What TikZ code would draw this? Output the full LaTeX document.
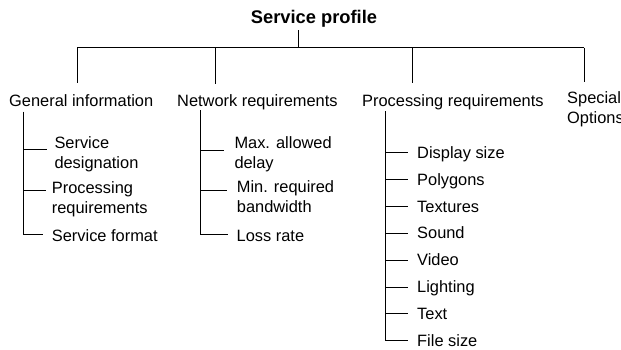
\documentclass[tikz,border=0pt]{standalone}
\usepackage{fontspec}
\setmainfont{Liberation Sans}
\newcommand{\twolines}[2]{\vtop{\baselineskip=20pt\hbox{#1}\hbox{#2}}}
\begin{document}
\begin{tikzpicture}[x=1pt,y=-1pt,
  lbl/.style={anchor=base west,inner sep=0pt,font=\fontsize{16.4}{20}\selectfont},
  ttl/.style={anchor=base,inner sep=0pt,font=\bfseries\fontsize{18.3}{22}\selectfont},
  wire/.style={draw=black,line width=1pt}]
\useasboundingbox (0,0) rectangle (621,349);

% title and top-level bar
\node[ttl] (title) at (314,23) {Service profile};
\coordinate (r0) at (298,30);
\coordinate (r1) at (298,47.5);
\coordinate (barL) at (77,47.5);
\coordinate (barR) at (584,47.5);
\draw[wire] (r0) -- (r1);
\draw[wire] (barL) -- (barR);

% top-level categories
\node[lbl] (gi) at (9,106) {General information};
\node[lbl] (nr) at (177,106) {Network requirements};
\node[lbl] (pr) at (362,106) {Processing requirements};
\node[lbl] (so) at (567,103) {\twolines{Special}{Options}};

\coordinate (giT) at (77,83);
\coordinate (nrB) at (215,47.5);
\coordinate (nrT) at (215,84);
\coordinate (prB) at (412.7,47.5);
\coordinate (prT) at (412.7,83);
\coordinate (soT) at (584,82);
\draw[wire] (barL) -- (giT);
\draw[wire] (nrB) -- (nrT);
\draw[wire] (prB) -- (prT);
\draw[wire] (barR) -- (soT);

% general information
\node[lbl] (g1) at (54.3,148) {\twolines{Service}{designation}};
\node[lbl] (g2) at (51.7,193) {\twolines{Processing}{requirements}};
\node[lbl] (g3) at (51.7,241.5) {Service format};
\coordinate (gtop) at (23,111.5);
\coordinate (g1a) at (23,149);  \coordinate (g1b) at (46.7,149);
\coordinate (g2a) at (23,190);  \coordinate (g2b) at (45.5,190);
\coordinate (g3b) at (43,234);
\draw[wire] (gtop) |- (g3b);
\draw[wire] (g1a) -- (g1b);
\draw[wire] (g2a) -- (g2b);

% network requirements
\node[lbl] (n1) at (234.3,148) {\twolines{Max. allowed}{delay}};
\node[lbl] (n2) at (236.7,192) {\twolines{Min. required}{bandwidth}};
\node[lbl] (n3) at (236.5,241.5) {Loss rate};
\coordinate (ntop) at (200,110);
\coordinate (n1a) at (200,150.7); \coordinate (n1b) at (224.3,150.7);
\coordinate (n2a) at (200,190);   \coordinate (n2b) at (226.5,190);
\coordinate (n3b) at (227.7,234.3);
\draw[wire] (ntop) |- (n3b);
\draw[wire] (n1a) -- (n1b);
\draw[wire] (n2a) -- (n2b);

% processing requirements
\coordinate (ptop) at (385,111);
\foreach \t [count=\i from 0] in {Display size,Polygons,Textures,Sound,Video,Lighting,Text,File size}{
  \node[lbl] (p\i) at (417,158.3+26.86*\i) {\t};
  \coordinate (pa\i) at (385,152.7+26.86*\i);
  \coordinate (pb\i) at (408,152.7+26.86*\i);
}
\draw[wire] (ptop) |- (pb7);
\foreach \i in {0,...,6}{\draw[wire] (pa\i) -- (pb\i);}
\end{tikzpicture}
\end{document}
